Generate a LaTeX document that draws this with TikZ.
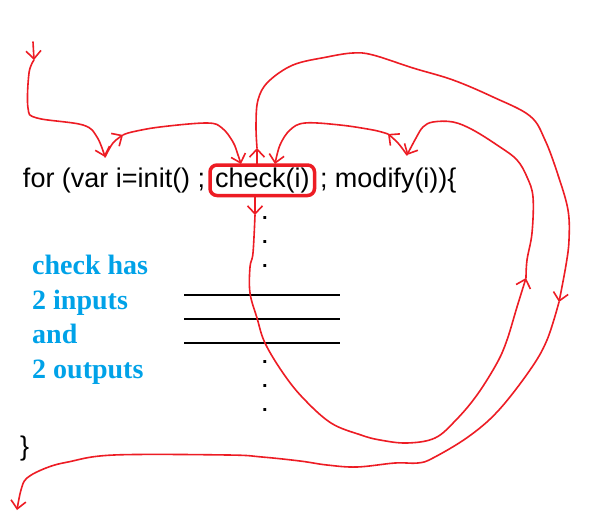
\documentclass[tikz,border=0pt]{standalone}
\usepackage{fontspec}
\setmainfont{Liberation Sans}
\newfontfamily\serifb{Liberation Serif}
\usetikzlibrary{arrows.meta}
\definecolor{pred}{HTML}{ED1C24}
\definecolor{pblue}{HTML}{00A2E8}
\begin{document}
\begin{tikzpicture}[x=1pt,y=-1pt,
  code/.style={font=\fontsize{27}{32}\selectfont, inner sep=0pt, outer sep=0pt, anchor=base west},
  note/.style={font=\serifb\bfseries\fontsize{28}{34}\selectfont, text=pblue, inner sep=0pt, anchor=base west},
  redl/.style={draw=pred, line width=1.6pt, line cap=round, line join=round},
  harrow/.style={-{Straight Barb[length=8pt,width=15pt]}},
  wire/.style={draw=black, line width=2pt},
  dotn/.style={font=\bfseries\fontsize{20}{24}\selectfont, inner sep=0pt, align=center, anchor=center}
]
\useasboundingbox (0,0) rectangle (594,527);
\fill[white] (0,0) rectangle (594,527);
% code line
\node[code] (forA) at (23,187) {for (var i=init() ;};
\node[code, draw=pred, line width=3.5pt, rounded corners=7pt, inner xsep=5pt, inner ysep=3pt, text height=19pt, text depth=5.5pt] (chk) at (210,187) {check(i)};
\node[code] (modA) at (320,187) {; modify(i)){\{}};
\node[code] (close) at (20,455) {\}};
% dots
\node[dotn] (dotsA) at (265,242) {.\\.\\.};
\node[dotn] (dotsB) at (265,386) {.\\.\\.};
% note
\node[note] (n1) at (32,274) {check has};
\node[note] (n2) at (32,309) {2 inputs};
\node[note] (n3) at (32,343) {and};
\node[note] (n4) at (32,378) {2 outputs};
% wires
\coordinate (w1a) at (184,295); \coordinate (w1b) at (340,295);
\coordinate (w2a) at (184,319); \coordinate (w2b) at (340,319);
\coordinate (w3a) at (184,343); \coordinate (w3b) at (340,343);
\draw[wire] (w1a) -- (w1b);
\draw[wire] (w2a) -- (w2b);
\draw[wire] (w3a) -- (w3b);
% red hand-drawn flow
\coordinate (entry) at (33,42);
\coordinate (t1) at (34,60);
\coordinate (t2) at (105,157);
\coordinate (t3) at (123,135);
\coordinate (t4) at (241,164);
\coordinate (up0) at (257,164);
\coordinate (up1) at (257,148);
\coordinate (t5) at (559,302);
\coordinate (exit) at (17,510);
\coordinate (dn0) at (255,197);
\coordinate (dn1) at (255,215);
\coordinate (t6) at (526,278);
\coordinate (t7) at (407,155);
\coordinate (t8) at (388,134);
\coordinate (t9) at (275,164);
\draw[redl,harrow] (entry) -- (t1);
\draw[redl,harrow] plot[smooth,tension=0.6] coordinates {(t1) (29,73) (28,108) (37,118) (83,125) (97,137) (t2)};
\draw[redl,harrow] plot[smooth,tension=0.6] coordinates {(t2) (113,143) (t3)};
\draw[redl,harrow] plot[smooth,tension=0.6] coordinates {(t3) (132,132) (160,127) (207,123) (222,128) (233,142) (238,155) (t4)};
\draw[redl,harrow] (up0) -- (up1);
\draw[redl,harrow] plot[smooth,tension=0.6] coordinates {(up1) (256,125) (258,100) (268,82) (293,65) (327,57) (353,53) (373,55) (413,68) (453,80) (493,97) (530,116) (545,140) (558,175) (568,210) (569,240) (566,265) (t5)};
\draw[redl,harrow] plot[smooth,tension=0.6] coordinates {(t5) (547,340) (530,370) (498,411) (468,437) (433,458) (418,463) (395,463) (357,467) (327,465) (300,461) (262,457) (228,455) (114,455) (68,462) (46,468) (27,478) (21,490) (exit)};
\draw[redl,harrow] (dn0) -- (dn1);
\draw[redl,harrow] plot[smooth,tension=0.6] coordinates {(dn1) (253,253) (250,267) (250,293) (257,318) (265,343) (283,373) (303,398) (331,423) (361,435) (380,440) (407,443) (435,438) (456,420) (477,395) (497,363) (507,340) (517,307) (t6)};
\draw[redl,harrow] plot[smooth,tension=0.6] coordinates {(t6) (527,260) (532,233) (533,197) (527,177) (517,160) (500,147) (473,130) (453,122) (433,122) (423,127) (416,138) (t7)};
\draw[redl,harrow] plot[smooth,tension=0.6] coordinates {(t7) (398,143) (t8)};
\draw[redl,harrow] plot[smooth,tension=0.6] coordinates {(t8) (373,130) (340,125) (305,123) (290,130) (280,145) (t9)};
\end{tikzpicture}
\end{document}
